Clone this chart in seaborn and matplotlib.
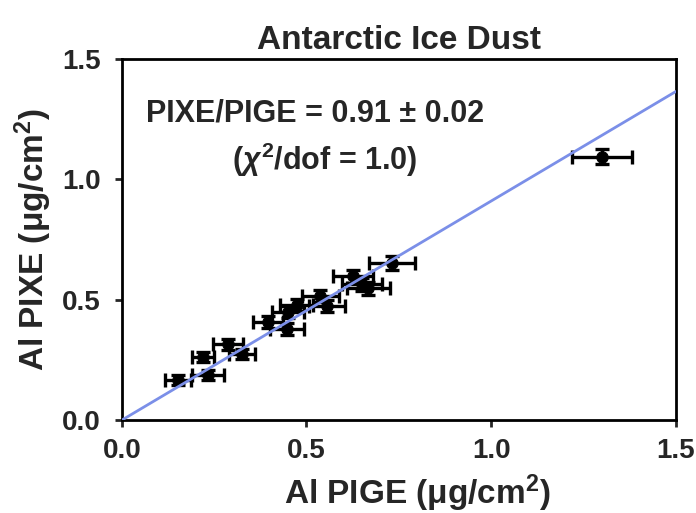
import matplotlib
matplotlib.use("Agg")
import matplotlib.pyplot as plt
import numpy as np
import pandas as pd
import seaborn as sns

# Al areal density measured by PIGE (x) and PIXE (y), in ug/cm^2
pige = [0.152, 0.233, 0.220, 0.287, 0.325, 0.396, 0.447, 0.450, 0.474,
        0.537, 0.555, 0.626, 0.650, 0.667, 0.732, 1.300]
pixe = [0.166, 0.187, 0.262, 0.315, 0.275, 0.407, 0.378, 0.449, 0.478,
        0.515, 0.475, 0.598, 0.565, 0.548, 0.652, 1.095]
pige_err = [0.036, 0.043, 0.030, 0.040, 0.035, 0.040, 0.045, 0.042, 0.045,
            0.050, 0.048, 0.055, 0.055, 0.058, 0.062, 0.082]
pixe_err = [0.020, 0.020, 0.020, 0.022, 0.022, 0.025, 0.025, 0.025, 0.025,
            0.025, 0.025, 0.027, 0.027, 0.027, 0.028, 0.030]

ratio = 0.91
ratio_err = 0.02
chi2_dof = 1.0

df = pd.DataFrame({"pige": pige, "pixe": pixe})
fit = pd.DataFrame({"x": [0.0, 1.5]})
fit["y"] = ratio * fit["x"]

sns.set_style("ticks")
plt.rcParams["font.family"] = ["Liberation Sans", "DejaVu Sans"]
plt.rcParams["font.weight"] = "bold"
plt.rcParams["mathtext.fontset"] = "custom"
plt.rcParams["mathtext.rm"] = "Liberation Sans:bold"
plt.rcParams["mathtext.it"] = "Liberation Sans:italic:bold"

fig = plt.figure(figsize=(6.96, 5.13), dpi=100)
ax = fig.add_axes([0.175, 0.181, 0.796, 0.704])

ax.errorbar(df["pige"], df["pixe"], xerr=pige_err, yerr=pixe_err,
            fmt="none", ecolor="black", elinewidth=2.4, capsize=5,
            capthick=2.4, zorder=2)
sns.scatterplot(data=df, x="pige", y="pixe", ax=ax, color="black",
                s=70, marker="o", edgecolor="black", zorder=3)
sns.lineplot(data=fit, x="x", y="y", ax=ax, color="#7b8fe8",
             linewidth=2, zorder=4)

ax.set_xlim(0, 1.5)
ax.set_ylim(0, 1.5)
ax.set_xticks([0.0, 0.5, 1.0, 1.5])
ax.set_yticks([0.0, 0.5, 1.0, 1.5])
ax.set_xticklabels(["0.0", "0.5", "1.0", "1.5"])
ax.set_yticklabels(["0.0", "0.5", "1.0", "1.5"])
ax.tick_params(direction="out", length=5, width=2, labelsize=20)
ax.tick_params(axis="x", pad=8)
ax.tick_params(axis="y", pad=10)
for lab in ax.get_xticklabels() + ax.get_yticklabels():
    lab.set_fontweight("bold")
for sp in ax.spines.values():
    sp.set_visible(True)
    sp.set_linewidth(2)
    sp.set_color("black")

ax.set_xlabel("Al PIGE (\u03bcg/cm$^2$)", fontsize=24, fontweight="bold")
ax.xaxis.set_label_coords(0.534, -0.232)
ax.xaxis.label.set_va("baseline")
ax.set_ylabel("Al PIXE (\u03bcg/cm$^2$)", fontsize=24, fontweight="bold",
              labelpad=6)
ax.set_title("Antarctic Ice Dust", fontsize=24, fontweight="bold", pad=7)

ax.text(0.065, 1.275, f"PIXE/PIGE = {ratio:.2f} \u00b1 {ratio_err:.2f}",
        fontsize=22, fontweight="bold", va="center", ha="left")
ax.text(0.55, 1.08, f"($\\chi^2$/dof = {chi2_dof:.1f})",
        fontsize=22, fontweight="bold", va="center", ha="center")

fig.savefig("out.png", dpi=100)
